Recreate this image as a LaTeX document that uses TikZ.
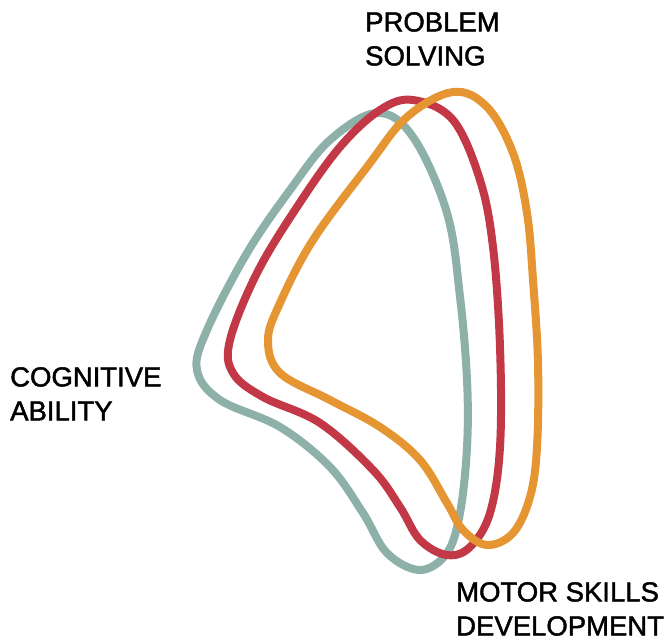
\documentclass[tikz,border=0pt]{standalone}
\usepackage{fontspec}
\setmainfont{Liberation Sans}[FakeBold=1.6]
\definecolor{cteal}{HTML}{8DB0A8}
\definecolor{cred}{HTML}{C23847}
\definecolor{corange}{HTML}{E59531}
\begin{document}
\begin{tikzpicture}[x=1pt,y=-1pt,
  loop/.style={line width=8pt, line join=round},
  lbl/.style={anchor=north west, inner sep=0pt, align=left, font=\fontsize{27.5}{34}\selectfont}]
\useasboundingbox (0,0) rectangle (671,644);
\draw[loop, cteal] plot[smooth cycle, tension=0.6] coordinates {
 (377,113) (413,137) (447,213) (460,297) (467,380) (467,447) (460,513) (447,553)
 (420,570) (387,553) (363,513) (330,467) (280,427) (220,400) (197,370) (207,330)
 (247,253) (290,190) (330,140)};
\draw[loop, cred] plot[smooth cycle, tension=0.6] coordinates {
 (413,100) (453,120) (480,180) (493,247) (500,347) (500,447) (490,513) (470,547)
 (447,555) (420,540) (400,507) (373,470) (320,423) (263,397) (233,373) (230,340)
 (257,273) (297,207) (340,147) (380,110)};
\draw[loop, corange] plot[smooth cycle, tension=0.6] coordinates {
 (453,92) (487,107) (513,153) (527,213) (533,280) (538,363) (537,447) (530,497)
 (513,533) (487,545) (463,530) (447,503) (420,460) (380,427) (330,400) (280,373)
 (268,340) (280,303) (313,240) (367,167) (407,117)};
\node[lbl] (ps) at (365,12) {PROBLEM\\SOLVING};
\node[lbl] (ca) at (10,367) {COGNITIVE\\ABILITY};
\node[lbl] (ms) at (456,582) {MOTOR SKILLS\\DEVELOPMENT};
\end{tikzpicture}
\end{document}
